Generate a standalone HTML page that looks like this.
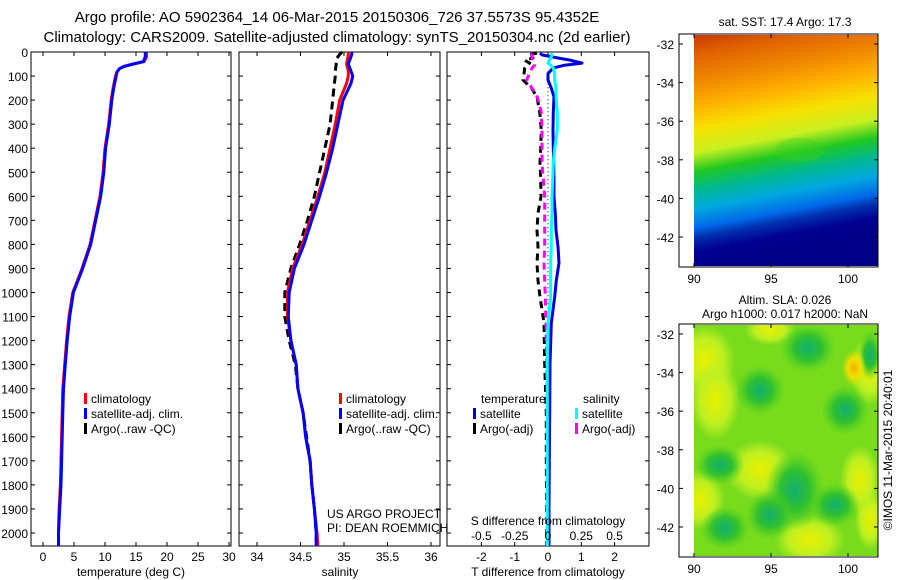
<!DOCTYPE html>
<html><head><meta charset="utf-8">
<style>
body{margin:0;background:#fff;}
svg{display:block;font-family:"Liberation Sans",sans-serif;}
text{fill:#000;}
</style></head>
<body>
<svg id="c" width="900" height="580" viewBox="0 0 900 580">
<defs>
<linearGradient id="sstg" x1="0" y1="0" x2="0.15" y2="1">
<stop offset="0" stop-color="#c83800"/>
<stop offset="0.08" stop-color="#e06000"/>
<stop offset="0.2" stop-color="#f08800"/>
<stop offset="0.3" stop-color="#ffb000"/>
<stop offset="0.4" stop-color="#f8e000"/>
<stop offset="0.5" stop-color="#c8f020"/>
<stop offset="0.58" stop-color="#20c820"/>
<stop offset="0.66" stop-color="#00b890"/>
<stop offset="0.74" stop-color="#00a8e0"/>
<stop offset="0.82" stop-color="#0068e8"/>
<stop offset="0.86" stop-color="#0030b0"/>
<stop offset="0.92" stop-color="#000090"/>
<stop offset="1" stop-color="#000088"/>
</linearGradient>
<radialGradient id="dg"><stop offset="0" stop-color="#10b070"/><stop offset="0.5" stop-color="#30c030"/><stop offset="1" stop-color="#50d020" stop-opacity="0"/></radialGradient>
<radialGradient id="yg"><stop offset="0" stop-color="#e8f000"/><stop offset="0.6" stop-color="#c0f020"/><stop offset="1" stop-color="#c0f020" stop-opacity="0"/></radialGradient>
<radialGradient id="og"><stop offset="0" stop-color="#f0b000"/><stop offset="0.5" stop-color="#f0e000"/><stop offset="1" stop-color="#f0e000" stop-opacity="0"/></radialGradient>
<clipPath id="clip1"><rect x="694" y="35" width="184" height="231"/></clipPath>
<clipPath id="clip2"><rect x="694" y="325" width="184" height="231"/></clipPath>
</defs>
<text x="337" y="22" font-size="15" text-anchor="middle">Argo profile: AO 5902364_14 06-Mar-2015 20150306_726 37.5573S 95.4352E</text>
<text x="337" y="42" font-size="15" text-anchor="middle">Climatology: CARS2009. Satellite-adjusted climatology: synTS_20150304.nc (2d earlier)</text>
<g id="plots"></g>
<g id="maps1" clip-path="url(#clip1)"></g>
<g id="maps2" clip-path="url(#clip2)"></g>
<g id="maps"></g>
</svg>
<script>
// ---- data ----
const tDepth = [0,20,40,50,60,70,85,100,150,200,300,400,500,600,700,800,900,1000,1100,1200,1300,1400,1500,1600,1700,1800,1900,2000,2054];
const tClim  = [16.7,16.7,16.3,14.5,13.0,12.3,11.9,11.7,11.3,11.0,10.6,10.0,9.7,9.2,8.4,7.6,6.3,4.8,4.2,3.8,3.5,3.2,3.1,3.0,2.9,2.8,2.6,2.5,2.5];
const tSat   = [16.5,16.5,16.2,14.6,13.1,12.3,11.9,11.8,11.4,11.1,10.7,10.1,9.8,9.3,8.5,7.7,6.4,4.9,4.3,3.9,3.6,3.3,3.2,3.1,3.0,2.9,2.7,2.5,2.5];

const sDepth = [0,10,30,50,80,100,130,200,300,400,500,600,700,800,900,1000,1100,1200,1300,1400,1500,1600,1700,1800,1900,2000,2054];
const sClim  = [35.05,35.05,35.04,35.03,35.05,35.05,35.03,34.95,34.90,34.84,34.78,34.70,34.61,34.52,34.41,34.35,34.35,34.39,34.45,34.47,34.53,34.56,34.61,34.63,34.66,34.69,34.70];
const sSat   = [35.09,35.09,35.07,35.05,35.08,35.10,35.08,34.99,34.93,34.87,34.80,34.72,34.63,34.54,34.43,34.37,34.36,34.39,34.45,34.47,34.53,34.56,34.61,34.63,34.66,34.68,34.68];
const sArgo  = [34.98,34.95,34.91,34.91,34.90,34.90,34.89,34.87,34.84,34.78,34.72,34.66,34.58,34.49,34.39,34.32,34.32,34.37,34.44,34.47,34.53,34.57,34.61,34.63,34.66,34.68,34.68];

const dDepth = [5,12,25,35,46,55,67,90,116,150,187,250,324,400,462,530,602,670,740,810,877,950,1018,1127,1300,1500,1700,1900,2054];
const dTsat  = [-0.24,-0.18,0.3,0.7,1.02,0.5,0.15,0.0,0.0,0.1,0.18,0.16,0.15,0.16,0.17,0.18,0.18,0.22,0.24,0.3,0.33,0.25,0.2,0.1,0.06,0.05,0.04,0.03,0.03];
const dTargo = [-0.33,-0.6,-0.45,-0.7,-0.55,-0.65,-0.7,-0.72,-0.75,-0.5,-0.33,-0.25,-0.2,-0.22,-0.24,-0.22,-0.21,-0.3,-0.33,-0.3,-0.33,-0.3,-0.24,-0.12,-0.1,-0.05,-0.05,-0.04,-0.04];
const dSsat  = [0.02,0.03,0.02,0.01,0.0,0.02,0.04,0.05,0.05,0.06,0.06,0.07,0.07,0.05,0.04,0.035,0.03,0.03,0.025,0.025,0.02,0.02,0.02,0.0,-0.005,-0.005,-0.005,-0.005,-0.005];
const dSargo = [-0.12,-0.12,-0.12,-0.11,-0.10,-0.10,-0.12,-0.14,-0.16,-0.12,-0.08,-0.05,-0.045,-0.045,-0.045,-0.035,-0.025,-0.025,-0.025,-0.025,-0.03,-0.025,-0.02,-0.015,-0.01,-0.005,-0.005,-0.005,-0.005];

const depthTicks = [0,100,200,300,400,500,600,700,800,900,1000,1100,1200,1300,1400,1500,1600,1700,1800,1900,2000];
const tTicks = [0,5,10,15,20,25,30];
const sTicks = [34,34.5,35,35.5,36];
const dTTicks = [-2,-1,0,1,2];
const dSTicks = [-0.5,-0.25,0,0.25,0.5];
const lonTicks = [90,95,100];
const latTicks = [-32,-34,-36,-38,-40,-42];

// ---- helpers ----
const NS="http://www.w3.org/2000/svg";
const plots=document.getElementById('plots');
const maps=document.getElementById('maps');
const maps1=document.getElementById('maps1');
const maps2=document.getElementById('maps2');
function mk(tag,attrs,parent){const e=document.createElementNS(NS,tag);for(const k in attrs)e.setAttribute(k,attrs[k]);(parent||plots).appendChild(e);return e;}
const TOP=52, BOT=546;
const yD = d => TOP + d*0.2405;
const xT = v => 43 + v*6.2;
const xS = v => 257 + (v-34)*87;
const xDT = v => 548 + v*33.3;
const xDS = v => 548 + v*133.2;

function frame(x0,x1,name){
  const r=mk('rect',{x:x0,y:TOP,width:x1-x0,height:BOT-TOP,fill:'none',stroke:'#000','stroke-width':1});
  
  
  depthTicks.forEach(d=>{
    const y=yD(d);
    mk('line',{x1:x0,x2:x0+4,y1:y,y2:y,stroke:'#000'});
    mk('line',{x1:x1-4,x2:x1,y1:y,y2:y,stroke:'#000'});
  });
}
function xticks(ticks,fx,labels){
  ticks.forEach(v=>{
    const x=fx(v);
    mk('line',{x1:x,x2:x,y1:BOT,y2:BOT-4,stroke:'#000'});
    mk('line',{x1:x,x2:x,y1:TOP,y2:TOP+4,stroke:'#000'});
    if(labels){const t=mk('text',{x:x,y:BOT+15,'font-size':12,'text-anchor':'middle'});t.textContent=String(v);
      
      }
  });
}
function line(depths,vals,fx,color,w,dash,name){
  const d=depths.map((dd,i)=>(i?'L':'M')+fx(vals[i]).toFixed(1)+','+yD(dd).toFixed(1)).join('');
  const p=mk('path',{d:d,fill:'none',stroke:color,'stroke-width':w,'stroke-dasharray':dash||'none','stroke-linejoin':'round'});
  
  
}
function txt(x,y,s,size,name,anchor){
  const t=mk('text',{x:x,y:y,'font-size':size||12,'text-anchor':anchor||'start'});t.textContent=s;
  
  
  return t;
}
function legendEntry(x,y,color,label,name){
  mk('rect',{x:x,y:y-10,width:3,height:11,fill:color});
  txt(x+7,y,label,12,name);
}

// ---- panel 1: temperature ----
frame(31,231,'temperature-axes');
depthTicks.forEach(d=>{
  const t=mk('text',{x:28,y:yD(d)+5,'font-size':12,'text-anchor':'end'});t.textContent=String(d);
  
  
});
xticks(tTicks,xT,true);
line(tDepth,tClim,xT,'#ff0000',3,null,'temperature-climatology-line');
line(tDepth,tSat,xT,'#0000ff',3,null,'temperature-satellite-line');
txt(131,576,'temperature (deg C)',12,'temperature-axis-title','middle');
legendEntry(84,403,'#ff0000','climatology','legend-climatology');
legendEntry(84,418,'#0000ff','satellite-adj. clim.','legend-satellite');
legendEntry(84,433,'#000000','Argo(..raw -QC)','legend-argo');

// ---- panel 2: salinity ----
frame(239,440,'salinity-axes');
xticks(sTicks,xS,true);
line(sDepth,sArgo,xS,'#000',3,'8,5','salinity-argo-line');
line(sDepth,sClim,xS,'#ff0000',3,null,'salinity-climatology-line');
line(sDepth,sSat,xS,'#0000ff',3,null,'salinity-satellite-line');
txt(340,576,'salinity',12,'salinity-axis-title','middle');
legendEntry(339,403,'#ff0000','climatology','legend-climatology-2');
legendEntry(339,418,'#0000ff','satellite-adj. clim.','legend-satellite-2');
legendEntry(339,433,'#000000','Argo(..raw -QC)','legend-argo-2');
txt(327,518,'US ARGO PROJECT',12,'project-credit');
txt(327,532,'PI: DEAN ROEMMICH',12,'pi-credit');

// ---- panel 3: differences ----
frame(447,649,'difference-axes');
xticks(dTTicks,xDT,true);
mk('line',{x1:xDT(0),x2:xDT(0),y1:yD(80),y2:BOT,stroke:'#000','stroke-dasharray':'1,3'});
line(dDepth,dTargo,xDT,'#000',3,'7,5','t-diff-argo-line');
line(dDepth,dSargo,xDS,'#ff00ff',3,'7,5','s-diff-argo-line');
line(dDepth,dTsat,xDT,'#0000dd',3,null,'t-diff-satellite-line');
line(dDepth,dSsat,xDS,'#00ffff',3,null,'s-diff-satellite-line');
dSTicks.forEach(v=>{const t=txt(xDS(v),540,String(v),12,'s-diff-tick-label','middle');});
txt(548,525,'S difference from climatology',12,'s-diff-axis-title','middle');
txt(548,576,'T difference from climatology',12,'t-diff-axis-title','middle');
txt(481,403,'temperature',12,'legend-temperature-header');
txt(583,403,'salinity',12,'legend-salinity-header');
legendEntry(473,418,'#0000dd','satellite','legend-t-satellite');
legendEntry(473,433,'#000000','Argo(-adj)','legend-t-argo');
legendEntry(575,418,'#00ffff','satellite','legend-s-satellite');
legendEntry(575,433,'#ff00ff','Argo(-adj)','legend-s-argo');

// ---- maps ----
function mapAxes(y0,y1,latTop,latBot,name){
  const r=mk('rect',{x:679,y:y0,width:199,height:y1-y0,fill:'none',stroke:'#000'},maps);
  
  
  const xL=v=>694+(v-90)*15.4;
  const yL=v=>latTop+(v+32)/(-10)*(latBot-latTop);
  lonTicks.forEach(v=>{const x=xL(v);
    mk('line',{x1:x,x2:x,y1:y1,y2:y1-4,stroke:'#000'},maps);
    mk('line',{x1:x,x2:x,y1:y0,y2:y0+4,stroke:'#000'},maps);
    const t=mk('text',{x:x,y:y1+16,'font-size':12,'text-anchor':'middle'},maps);t.textContent=String(v);
    
    });
  latTicks.forEach(v=>{const y=yL(v);
    mk('line',{x1:679,x2:683,y1:y,y2:y,stroke:'#000'},maps);
    mk('line',{x1:874,x2:878,y1:y,y2:y,stroke:'#000'},maps);
    const t=mk('text',{x:674,y:y+5,'font-size':12,'text-anchor':'end'},maps);t.textContent=String(v);
    
    });
}
// SST map
const sst=mk('rect',{x:694,y:35,width:184,height:231,fill:'url(#sstg)'},maps1);


mk('ellipse',{cx:800,cy:150,rx:25,ry:12,fill:'#40d020',opacity:0.35},maps1);
mapAxes(34,267,44,237,'sst-map-axes');
txt(785,26,'sat. SST: 17.4  Argo: 17.3',12,'sst-map-title','middle');
// SLA map
const sla=mk('rect',{x:694,y:324,width:184,height:232,fill:'#78dc1c'},maps2);


[[705,360,30,35],[760,470,35,30],[870,370,20,35],[715,400,25,40],[810,540,35,25],[860,480,20,35],[700,500,25,30],[770,330,25,15],[870,520,15,30]].forEach(b=>mk('ellipse',{cx:b[0],cy:b[1],rx:b[2],ry:b[3],fill:'url(#yg)'},maps2));
[[808,348,28,25],[845,410,24,25],[795,490,30,40],[760,390,25,25],[770,515,25,25],[835,505,25,22],[725,528,25,22],[720,465,25,20],[870,355,12,25]].forEach(b=>mk('ellipse',{cx:b[0],cy:b[1],rx:b[2],ry:b[3],fill:'url(#dg)'},maps2));
mk('ellipse',{cx:854,cy:368,rx:12,ry:18,fill:'url(#og)'},maps2);
mapAxes(324,557,334,527,'sla-map-axes');
txt(785,304,'Altim. SLA: 0.026',12,'sla-map-title','middle');
txt(785,318,'Argo h1000: 0.017 h2000: NaN',12,'sla-map-subtitle','middle');
const cp=mk('text',{x:0,y:0,'font-size':12,'text-anchor':'middle',transform:'translate(892,450) rotate(-90)'},maps);
cp.textContent='©IMOS 11-Mar-2015 20:40:01';


</script>
</body></html>
